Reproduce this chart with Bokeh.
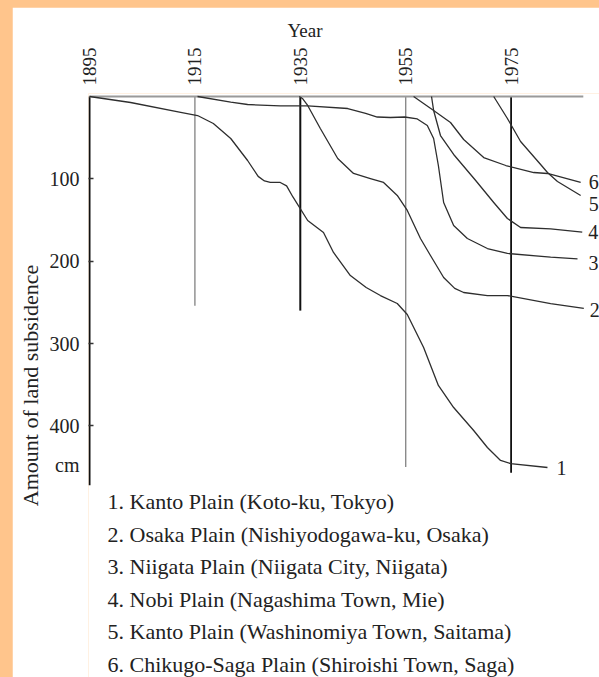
from bokeh.plotting import figure
from bokeh.models import Range1d, LinearAxis, FixedTicker, ColumnDataSource, Title
from bokeh.layouts import column
from bokeh.core.properties import value
from bokeh.embed import file_html
from bokeh.resources import INLINE

# ---------------- data (year, subsidence in cm) ----------------
years_1 = [1895.0, 1902.8, 1912.3, 1915.5, 1918.5, 1921.8, 1925.0, 1927.0, 1928.2, 1929.3, 1931.2,
           1932.4, 1933.6, 1936.4, 1939.4, 1941.3, 1944.5, 1947.5, 1950.2, 1953.4, 1955.3, 1958.4,
           1961.2, 1964.1, 1967.9, 1970.5, 1973.0, 1974.9, 1981.9]
subs_1 = [0, 7.3, 19.4, 23.1, 32.8, 51.0, 77.7, 97.0, 102.5, 104.4, 104.4,
          108.5, 122.0, 150.6, 165.1, 189.4, 217.4, 232.0, 241.7, 251.4, 264.7, 304.8,
          350.9, 377.7, 405.6, 426.2, 442.0, 445.7, 450.5]

years_2 = [1934.8, 1935.4, 1936.4, 1938.8, 1942.1, 1945.1, 1948.3, 1950.8, 1953.4, 1955.3,
           1957.8, 1959.7, 1962.2, 1964.3, 1966.0, 1970.5, 1974.3, 1982.5, 1988.8]
subs_2 = [0, 2.4, 10.9, 38.9, 75.3, 93.5, 99.6, 104.4, 120.2, 138.4,
          172.4, 193.1, 219.8, 233.0, 238.0, 241.7, 241.7, 251.4, 257.4]

years_3 = [1915.5, 1921.8, 1925.0, 1931.2, 1936.4, 1944.0, 1947.4, 1949.6, 1952.1, 1954.8,
           1957.2, 1959.1, 1960.3, 1961.2, 1962.2, 1964.1, 1966.7, 1970.5, 1974.3, 1982.5, 1987.6]
subs_3 = [0, 6.9, 9.7, 11.5, 11.5, 14.6, 20.6, 24.9, 25.5, 24.9,
          27.3, 35.2, 51.0, 83.8, 128.7, 156.6, 172.4, 184.6, 190.6, 195.1, 197.1]

years_4 = [1959.9, 1960.3, 1961.6, 1964.1, 1968.2, 1971.7, 1974.3, 1976.8, 1982.5, 1988.5]
subs_4 = [0, 17.0, 47.4, 70.4, 101.4, 128.7, 148.1, 159.1, 160.7, 164.8]

years_5 = [1971.7, 1974.3, 1976.8, 1980.6, 1981.9, 1983.8, 1988.2]
subs_5 = [0, 26.7, 54.6, 82.6, 92.3, 103.2, 120.2]

years_6 = [1956.5, 1960.3, 1963.5, 1966.0, 1969.8, 1974.0, 1979.3, 1981.9, 1988.2]
subs_6 = [0, 17.0, 31.6, 52.2, 74.1, 83.8, 92.3, 93.5, 104.4]

series_ids = ["1", "2", "3", "4", "5", "6"]
series_names = [
    "Kanto Plain (Koto-ku, Tokyo)",
    "Osaka Plain (Nishiyodogawa-ku, Osaka)",
    "Niigata Plain (Niigata City, Niigata)",
    "Nobi Plain (Nagashima Town, Mie)",
    "Kanto Plain (Washinomiya Town, Saitama)",
    "Chikugo-Saga Plain (Shiroishi Town, Saga)",
]
ref_years = [1895, 1915, 1935, 1955, 1975]
ref_line_ends = [472, 254, 260, 450, 457]
y_ticks = [100, 200, 300, 400]
unit_pos = 447
unit_label = "cm"
top_line_end = 1988.7

# ---------------- styling ----------------
FONT = "Liberation Serif"
TXT = "#222222"
CURVE = "#2e2e2e"
PX_PER_YEAR = 5.27
PX_PER_CM = 0.8235
ORANGE = "#FFC58C"

W, H = 587, 670
LEFT, TOP = 76, 86
x0 = 1895 - 1 / PX_PER_YEAR
y0 = -3 / PX_PER_CM
x1 = x0 + (W - LEFT) / PX_PER_YEAR
y1 = y0 + (H - TOP) / PX_PER_CM

p = figure(width=W, height=H, output_backend="svg", toolbar_location=None,
           x_range=Range1d(x0, x1), y_range=Range1d(y1, y0),
           min_border_left=LEFT, min_border_right=0, min_border_top=TOP, min_border_bottom=0,
           x_axis_location=None, y_axis_location=None)
p.margin = (7, 0, 0, 12)
p.grid.visible = False
p.outline_line_color = None
p.background_fill_color = "white"
p.border_fill_color = "white"

# axes
overrides = {t: str(t) for t in y_ticks}
overrides[unit_pos] = unit_label
yaxis = LinearAxis(ticker=FixedTicker(ticks=y_ticks + [unit_pos], minor_ticks=y_ticks),
                   major_label_overrides=overrides,
                   axis_label="Amount of land subsidence",
                   axis_line_color=None,
                   major_tick_line_color=None, major_tick_in=0, major_tick_out=0,
                   minor_tick_in=5, minor_tick_out=0,
                   minor_tick_line_color="#333333", minor_tick_line_width=1.5,
                   major_label_text_font=FONT, major_label_text_font_size="20px",
                   major_label_text_color=TXT, major_label_standoff=9,
                   axis_label_text_font=FONT, axis_label_text_font_size="22px",
                   axis_label_text_font_style="normal", axis_label_text_color=TXT,
                   axis_label_standoff=4)
p.add_layout(yaxis, "left")

xaxis = LinearAxis(ticker=FixedTicker(ticks=ref_years),
                   major_label_overrides={y: str(y) for y in ref_years},
                   major_label_orientation="vertical",
                   axis_line_color=None, major_tick_line_color=None,
                   major_tick_in=0, major_tick_out=0,
                   minor_tick_line_color=None,
                   major_label_text_font=FONT, major_label_text_font_size="19px",
                   major_label_text_color=TXT, major_label_standoff=8)
p.add_layout(xaxis, "above")

p.add_layout(Title(text="Year", align="left", offset=199, standoff=8,
                   text_font=FONT, text_font_size="19px", text_font_style="normal",
                   text_color=TXT), "above")

# reference year lines
line_colors = ["#111111", "#8a8a8a", "#111111", "#8a8a8a", "#111111"]
line_widths = [2.0, 1.4, 2.0, 1.4, 1.8]
p.segment(x0=ref_years, y0=[0] * 5, x1=ref_years, y1=ref_line_ends,
          line_color=line_colors, line_width=line_widths)
p.segment(x0=[ref_years[0]], y0=[0], x1=[top_line_end], y1=[0],
          line_color="#9a9a9a", line_width=2)

# curves
all_years = [years_1, years_2, years_3, years_4, years_5, years_6]
all_subs = [subs_1, subs_2, subs_3, subs_4, subs_5, subs_6]
for xs, ys in zip(all_years, all_subs):
    p.line(xs, ys, line_color=CURVE, line_width=1.3, line_join="round")

# end labels
end_src = ColumnDataSource(dict(
    x=[ys[-1] for ys in all_years],
    y=[vs[-1] for vs in all_subs],
    t=series_ids,
    dx=[9, 6, 11, 6, 8, 8],
    dy=[1, 2, 4, 0, 9, 0],
))
p.text(x="x", y="y", text="t", x_offset="dx", y_offset="dy", source=end_src,
       text_font=value(FONT), text_font_size="20px", text_color=TXT,
       text_align="left", text_baseline="middle")

# legend block
leg_y0 = (501 - 96) / PX_PER_CM
leg_step = 32.6 / PX_PER_CM
leg_x = 1895 + (107 - 89) / PX_PER_YEAR
leg_src = ColumnDataSource(dict(
    x=[leg_x] * len(series_names),
    y=[leg_y0 + i * leg_step for i in range(len(series_names))],
    t=[f"{i}. {n}" for i, n in zip(series_ids, series_names)],
))
p.text(x="x", y="y", text="t", source=leg_src,
       text_font=value(FONT), text_font_size="22px", text_color=TXT,
       text_align="left", text_baseline="middle")

layout = column(p, styles={"background-color": ORANGE})
open("out.html", "w").write(file_html(layout, INLINE))
